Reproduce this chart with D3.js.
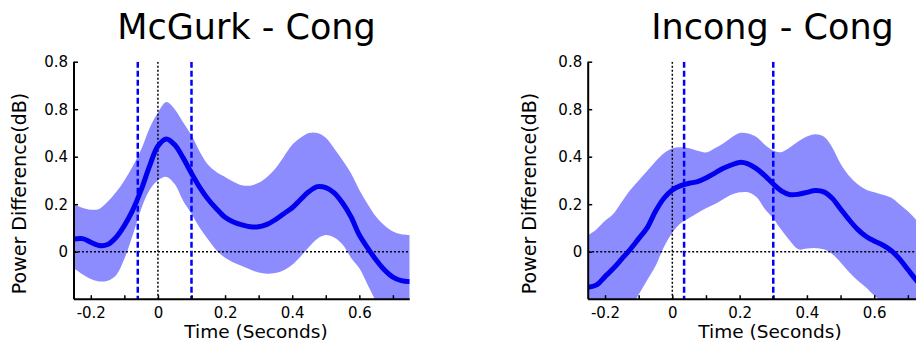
<!DOCTYPE html>
<html>
<head>
<meta charset="utf-8">
<script src="https://cdn.jsdelivr.net/npm/d3@7"></script>
<style>
  html, body { margin: 0; padding: 0; background: #fff; }
  svg { display: block; font-family: "DejaVu Sans", Verdana, sans-serif; }
</style>
</head>
<body>
<svg id="chart" width="916" height="345"></svg>
<script>
// ---------- DATA ----------
const time = [-0.25,-0.225,-0.2,-0.175,-0.15,-0.125,-0.1,-0.075,-0.05,-0.025,0,0.025,0.05,0.075,0.1,0.125,0.15,0.175,0.2,0.225,0.25,0.275,0.3,0.325,0.35,0.375,0.4,0.425,0.45,0.475,0.5,0.525,0.55,0.575,0.6,0.625,0.65,0.675,0.7,0.725,0.75];

const titles = ["McGurk - Cong", "Incong - Cong"];

const mcgurkMean = [0.053,0.055,0.04,0.026,0.03,0.06,0.11,0.175,0.26,0.36,0.445,0.475,0.45,0.395,0.33,0.27,0.22,0.18,0.145,0.125,0.113,0.105,0.105,0.115,0.135,0.16,0.185,0.22,0.253,0.274,0.27,0.248,0.205,0.147,0.07,0.015,-0.035,-0.077,-0.107,-0.122,-0.126];
const mcgurkUpper = [0.2,0.185,0.177,0.18,0.21,0.25,0.3,0.36,0.43,0.52,0.585,0.63,0.6,0.545,0.49,0.42,0.365,0.335,0.315,0.295,0.28,0.278,0.29,0.315,0.35,0.4,0.45,0.48,0.5,0.5,0.48,0.435,0.385,0.33,0.26,0.2,0.147,0.11,0.085,0.073,0.07];
const mcgurkLower = [-0.07,-0.095,-0.115,-0.125,-0.122,-0.1,-0.03,0.07,0.18,0.26,0.3,0.315,0.285,0.215,0.16,0.1,0.05,0.005,-0.025,-0.045,-0.06,-0.075,-0.088,-0.093,-0.09,-0.078,-0.055,-0.02,0.02,0.055,0.07,0.06,0.03,-0.025,-0.07,-0.14,-0.21,-0.27,-0.32,-0.36,-0.4];

const incongMean = [-0.15,-0.14,-0.105,-0.07,-0.03,0.01,0.055,0.1,0.17,0.225,0.26,0.278,0.288,0.295,0.31,0.33,0.35,0.365,0.376,0.37,0.35,0.32,0.285,0.255,0.24,0.242,0.25,0.258,0.252,0.225,0.18,0.135,0.095,0.065,0.045,0.028,0.005,-0.03,-0.075,-0.12,-0.16];
const incongUpper = [0.07,0.095,0.13,0.16,0.21,0.26,0.3,0.34,0.38,0.415,0.435,0.44,0.436,0.425,0.418,0.435,0.455,0.48,0.5,0.498,0.483,0.45,0.425,0.42,0.44,0.465,0.485,0.495,0.485,0.44,0.37,0.32,0.285,0.262,0.25,0.24,0.228,0.2,0.17,0.133,0.09];
const incongLower = [-0.45,-0.42,-0.38,-0.34,-0.29,-0.24,-0.18,-0.12,-0.06,0.02,0.08,0.12,0.142,0.163,0.183,0.2,0.22,0.24,0.25,0.25,0.23,0.18,0.14,0.09,0.045,0.01,0.013,0.015,0.01,-0.01,-0.045,-0.085,-0.12,-0.15,-0.185,-0.21,-0.25,-0.3,-0.35,-0.4,-0.45];

const mcgurkWindow = [-0.06, 0.1];
const incongWindow = [0.035, 0.3];

const xTicks = [-0.2,-0.1,0,0.1,0.2,0.3,0.4,0.5,0.6,0.7];
const xTickLabels = ["-0.2","","0","","0.2","","0.4","","0.6",""];
const yTicks = [0,0.2,0.4,0.6,0.8];
const yTickLabels = ["0","0.2","0.4","0.8","0.8"];

const xLabel = "Time (Seconds)";
const yLabel = "Power Difference(dB)";

// ---------- DRAW ----------
const svg = d3.select("#chart");
const xDomain = [-0.25, 0.75];
const yDomain = [-0.2, 0.8];

const panels = [
  { title: titles[0], mean: mcgurkMean, upper: mcgurkUpper, lower: mcgurkLower, win: mcgurkWindow,
    left: 74, right: 409.7, titleX: 246.5, xLabelX: 256, yLabelX: 26 },
  { title: titles[1], mean: incongMean, upper: incongUpper, lower: incongLower, win: incongWindow,
    left: 588.2, right: 924.7, titleX: 772.5, xLabelX: 770, yLabelX: 536 }
];
const plotTop = 61.7, plotBottom = 299.2;

panels.forEach((p, i) => {
  const x = d3.scaleLinear().domain(xDomain).range([p.left, p.right]);
  const y = d3.scaleLinear().domain(yDomain).range([plotBottom, plotTop]);
  const g = svg.append("g");

  const clipId = "clip" + i;
  svg.append("clipPath").attr("id", clipId)
    .append("rect").attr("x", p.left).attr("y", plotTop).attr("width", p.right - p.left).attr("height", plotBottom - plotTop);

  const plot = g.append("g").attr("clip-path", `url(#${clipId})`);

  const area = d3.area()
    .x((d, j) => x(time[j]))
    .y0((d, j) => y(p.lower[j]))
    .y1((d, j) => y(p.upper[j]))
    .curve(d3.curveCatmullRom);
  plot.append("path").datum(time).attr("d", area).attr("fill", "rgb(140,140,255)");

  plot.append("line").attr("x1", p.left).attr("x2", p.right).attr("y1", y(0)).attr("y2", y(0))
    .attr("stroke", "#000").attr("stroke-width", 1.5).attr("stroke-dasharray", "2,2");
  plot.append("line").attr("x1", x(0)).attr("x2", x(0)).attr("y1", plotTop).attr("y2", plotBottom)
    .attr("stroke", "#000").attr("stroke-width", 1.5).attr("stroke-dasharray", "2,2");

  p.win.forEach(w => {
    plot.append("line").attr("x1", x(w)).attr("x2", x(w)).attr("y1", plotTop).attr("y2", plotBottom)
      .attr("stroke", "#0000ff").attr("stroke-width", 2.5).attr("stroke-dasharray", "6,3");
  });

  const line = d3.line()
    .x((d, j) => x(time[j]))
    .y((d, j) => y(p.mean[j]))
    .curve(d3.curveCatmullRom);
  plot.append("path").datum(time).attr("d", line).attr("fill", "none")
    .attr("stroke", "#0000ee").attr("stroke-width", 5).attr("stroke-linejoin", "round");

  const xAxis = d3.axisBottom(x).tickValues(xTicks)
    .tickFormat((d, j) => xTickLabels[j]).tickSizeInner(-4).tickSizeOuter(0).tickPadding(8);
  const gx = g.append("g").attr("transform", `translate(0,${plotBottom})`).call(xAxis);
  const yAxis = d3.axisLeft(y).tickValues(yTicks)
    .tickFormat((d, j) => yTickLabels[j]).tickSizeInner(-4).tickSizeOuter(0).tickPadding(6);
  const gy = g.append("g").attr("transform", `translate(${p.left},0)`).call(yAxis);

  [gx, gy].forEach(a => {
    a.select(".domain").attr("stroke", "#000").attr("stroke-width", 2);
    a.selectAll(".tick line").attr("stroke", "#000").attr("stroke-width", 1.5);
    a.selectAll(".tick text").attr("font-size", 15).attr("fill", "#000")
      .attr("font-family", "DejaVu Sans, sans-serif");
  });
  gx.select(".domain").attr("d", `M${p.left},0H${p.right}`);
  gy.select(".domain").attr("d", `M0,${plotBottom}V${plotTop}`);

  g.append("text").attr("x", p.titleX).attr("y", 39).attr("text-anchor", "middle")
    .attr("font-size", 35).attr("fill", "#000").text(p.title);
  g.append("text").attr("x", p.xLabelX).attr("y", 338).attr("text-anchor", "middle")
    .attr("font-size", 18.5).attr("fill", "#000").text(xLabel);
  g.append("text").attr("transform", `translate(${p.yLabelX},${193.5}) rotate(-90)`)
    .attr("text-anchor", "middle").attr("font-size", 19).attr("fill", "#000").text(yLabel);
});
</script>
</body>
</html>
